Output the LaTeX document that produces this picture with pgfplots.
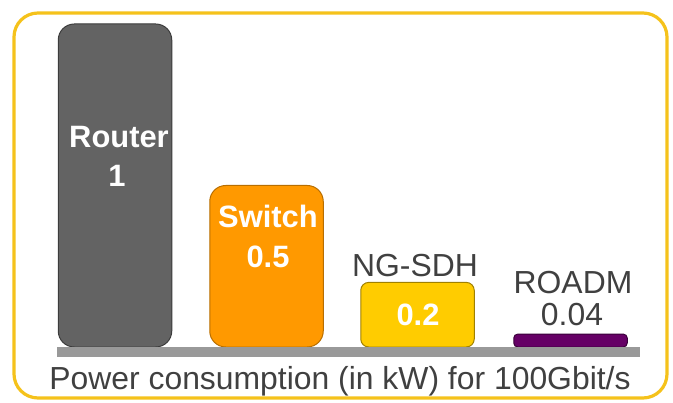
\documentclass[border=0pt]{standalone}
\usepackage{pgfplots}
\pgfplotsset{compat=1.18}
\usepackage{fontspec}
\setmainfont{Liberation Sans}

\definecolor{routerfill}{HTML}{636363}
\definecolor{routeredge}{HTML}{3C3C3C}
\definecolor{switchfill}{HTML}{FF9900}
\definecolor{switchedge}{HTML}{B86E00}
\definecolor{sdhfill}{HTML}{FFCC00}
\definecolor{sdhedge}{HTML}{A08000}
\definecolor{roadmfill}{HTML}{660066}
\definecolor{roadmedge}{HTML}{3A003A}
\definecolor{basegray}{HTML}{999999}
\definecolor{framegold}{HTML}{F5C21B}
\definecolor{labelgray}{HTML}{404040}

\begin{document}
\begin{tikzpicture}
\useasboundingbox (0,0) rectangle (673bp,403bp);
\begin{axis}[
  at={(0,0)}, anchor=south west,
  scale only axis, width=673bp, height=403bp,
  xmin=0, xmax=673, ymin=-0.17337, ymax=1.07430,
  hide axis, clip=false,
  ybar, bar width=113.5, bar shift=0pt,
]
% power consumption in kW for 100 Gbit/s
\addplot[fill=routerfill, draw=routeredge, line width=1bp, rounded corners=16bp] coordinates {(115,1)};
\addplot[fill=switchfill, draw=switchedge, line width=1bp, rounded corners=16bp] coordinates {(266.5,0.5)};
\addplot[fill=sdhfill, draw=sdhedge, line width=1bp, rounded corners=8bp] coordinates {(417.5,0.2)};
\addplot[fill=roadmfill, draw=roadmedge, line width=1bp, rounded corners=4bp] coordinates {(570.5,0.04)};
\end{axis}

\begin{scope}[x=1bp, y=-1bp, yshift=403bp]
  % outer frame
  \draw[framegold, line width=3.2bp, rounded corners=24bp] (14,13) rectangle (667,398);
  % floor line
  \fill[basegray] (57,347) rectangle (640,357);
  % bar labels
  \node[anchor=base, text=white, font=\bfseries\fontsize{31}{31}\selectfont, inner sep=0pt] at (119,148) {Router};
  \node[anchor=base, text=white, font=\bfseries\fontsize{31}{31}\selectfont, inner sep=0pt] at (117,187) {1};
  \node[anchor=base, text=white, font=\bfseries\fontsize{31}{31}\selectfont, inner sep=0pt] at (268,228) {Switch};
  \node[anchor=base, text=white, font=\bfseries\fontsize{31}{31}\selectfont, inner sep=0pt] at (268,268) {0.5};
  \node[anchor=base, text=labelgray, font=\fontsize{32}{32}\selectfont, inner sep=0pt] at (415,277) {NG-SDH};
  \node[anchor=base, text=white, font=\bfseries\fontsize{31}{31}\selectfont, inner sep=0pt] at (418,326) {0.2};
  \node[anchor=base, text=labelgray, font=\fontsize{32}{32}\selectfont, inner sep=0pt] at (573,294) {ROADM};
  \node[anchor=base, text=labelgray, font=\fontsize{32}{32}\selectfont, inner sep=0pt] at (572,326) {0.04};
  % caption
  \node[anchor=base, text=labelgray, font=\fontsize{32}{32}\selectfont, inner sep=0pt] at (340,390) {Power consumption (in kW) for 100Gbit/s};
\end{scope}
\end{tikzpicture}
\end{document}
